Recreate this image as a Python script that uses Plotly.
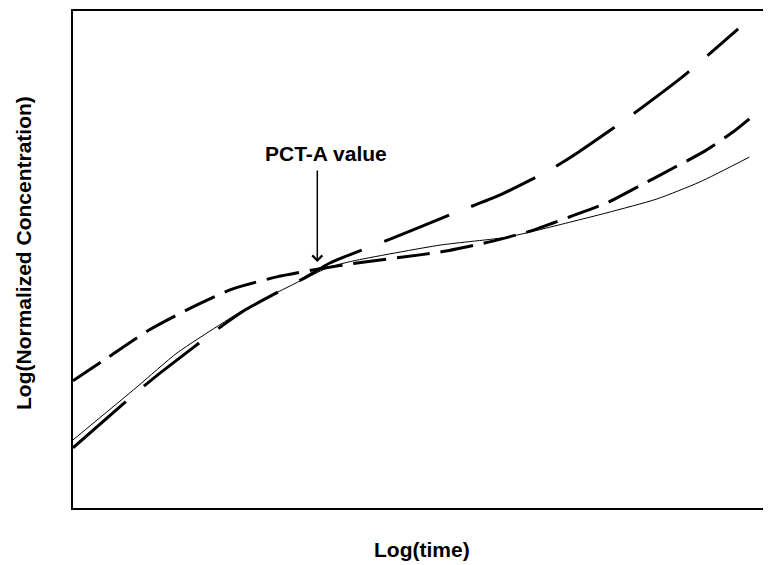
import plotly.graph_objects as go

# Data (arbitrary log units)
long_x = [0, 0.93, 1.25, 2.15, 2.46, 3.37, 3.68, 4.58, 5.40, 6.12, 6.83, 7.24, 7.95, 8.78, 9.53]
long_y = [1.21, 2.35, 2.72, 3.68, 3.98, 4.67, 4.93, 5.43, 5.90, 6.30, 6.80, 7.16, 7.85, 8.73, 9.64]

med_x = [0, 0.49, 1.09, 1.71, 2.29, 2.92, 3.52, 4.07, 4.73, 5.26, 5.95, 6.55, 7.12, 7.65, 8.17, 8.60, 9.05, 9.46, 9.69]
med_y = [2.56, 3.02, 3.58, 4.04, 4.41, 4.65, 4.81, 4.93, 5.05, 5.15, 5.35, 5.57, 5.86, 6.14, 6.52, 6.84, 7.18, 7.57, 7.83]

thin_x = [0, 0.92, 1.49, 2.14, 2.46, 3.40, 3.68, 4.01, 5.26, 6.22, 6.83, 7.65, 8.37, 8.98, 9.69]
thin_y = [1.37, 2.44, 3.12, 3.72, 4.00, 4.67, 4.85, 4.97, 5.29, 5.45, 5.65, 5.94, 6.22, 6.56, 7.06]

arrow_x = 3.50
arrow_tip_y = 4.95
arrow_tail_y = 6.82
label_text = "PCT-A value"
x_title = "Log(time)"
y_title = "Log(Normalized Concentration)"

FONT = "Arial, Liberation Sans, Helvetica, sans-serif"

fig = go.Figure()
fig.add_trace(go.Scatter(x=thin_x, y=thin_y, mode="lines",
                         line=dict(color="black", width=1, shape="spline", smoothing=0.6)))
fig.add_trace(go.Scatter(x=med_x, y=med_y, mode="lines",
                         line=dict(color="black", width=3, dash="33px,11px", shape="spline", smoothing=0.6)))
fig.add_trace(go.Scatter(x=long_x, y=long_y, mode="lines",
                         line=dict(color="black", width=3, dash="70px,24px", shape="spline", smoothing=0.6)))

fig.add_annotation(x=arrow_x, y=arrow_tip_y, ax=arrow_x, ay=arrow_tail_y,
                   xref="x", yref="y", axref="x", ayref="y", text="",
                   showarrow=True, arrowhead=4, arrowsize=1.3, arrowwidth=1.5,
                   arrowcolor="black")
fig.add_annotation(x=3.62, y=7.14, xref="x", yref="y", text="<b>" + label_text + "</b>",
                   showarrow=False, font=dict(family=FONT, size=21, color="black"),
                   xanchor="center", yanchor="middle")

fig.add_annotation(x=0.5, y=-(549 - 508) / 497, xref="paper", yref="paper",
                   text="<b>" + x_title + "</b>", showarrow=False,
                   font=dict(family=FONT, size=21, color="black"),
                   xanchor="center", yanchor="middle")
fig.add_annotation(x=-(73 - 24) / 698, y=(508 - 253) / 497, xref="paper", yref="paper",
                   text="<b>" + y_title + "</b>", showarrow=False, textangle=-90,
                   font=dict(family=FONT, size=21, color="black"),
                   xanchor="center", yanchor="middle")

# The page body has an 8px margin, so the figure is sized to fit inside the window.
fig.update_layout(
    width=763, height=557,
    margin=dict(l=65, r=0, t=3, b=57),
    paper_bgcolor="white", plot_bgcolor="white",
    showlegend=False,
    xaxis=dict(range=[0, 10], showgrid=False, zeroline=False, showticklabels=False,
               ticks="", showline=True, linecolor="black", linewidth=2, mirror=True),
    yaxis=dict(range=[0, 10], showgrid=False, zeroline=False, showticklabels=False,
               ticks="", showline=True, linecolor="black", linewidth=1.5, mirror=False),
)

fig.write_html("out.html")
